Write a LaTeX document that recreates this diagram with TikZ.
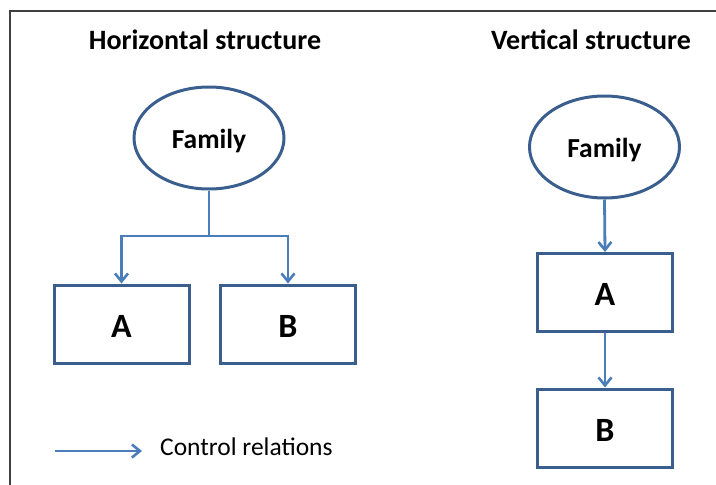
\documentclass[tikz,border=0pt]{standalone}
\usepackage{fontspec}
\setmainfont{Carlito}
\usetikzlibrary{arrows.meta,shapes.geometric}
\definecolor{boxblue}{HTML}{3A5F8F}
\definecolor{linkblue}{HTML}{4A7EBB}
\definecolor{framegray}{HTML}{404040}
\newcommand{\lowered}[2]{\raisebox{-#1}[\height][\depth]{#2}}
\tikzset{
  famnode/.style={draw=boxblue,line width=3pt,ellipse,minimum width=150pt,minimum height=102pt,inner sep=0pt,font=\bfseries\fontsize{27.5}{32}\selectfont},
  unitbox/.style={draw=boxblue,line width=3pt,rectangle,minimum width=135pt,minimum height=78pt,inner sep=0pt,font=\bfseries\fontsize{34}{38}\selectfont},
  titletext/.style={font=\bfseries\fontsize{28}{32}\selectfont,inner sep=0pt},
  link/.style={draw=linkblue,line width=2.8pt,-{Straight Barb[length=8pt,width=13pt,line width=2.6pt]}},
  plainlink/.style={draw=linkblue,line width=2.8pt}
}
\begin{document}
\begin{tikzpicture}[x=1pt,y=-1pt]
\useasboundingbox (0,0) rectangle (716,485);
\draw[framegray,line width=1.5pt] (10,11) rectangle (730,500);
% titles
\node[titletext] (th) at (205,40) {Horizontal structure};
\node[titletext] (tv) at (591,40) {Vertical structure};
% horizontal structure
\node[famnode] (hf) at (209,138) {\lowered{3pt}{Family}};
\node[unitbox] (ha) at (121.5,324) {\lowered{2pt}{A}};
\node[unitbox] (hb) at (288,324) {\lowered{2pt}{B}};
\coordinate (hj) at (209,236);
\draw[plainlink] (hf.south) -- (hj);
\draw[link] (hj) -| (ha.north);
\draw[link] (hj) -| (hb.north);
% vertical structure
\node[famnode] (vf) at (604.5,147) {\lowered{3pt}{Family}};
\node[unitbox] (va) at (605,292.5) {\lowered{2pt}{A}};
\node[unitbox] (vb) at (605,428) {\lowered{2pt}{B}};
\draw[link] (vf.south) -- (va.north);
\draw[link] (va.south) -- (vb.north);
% legend
\coordinate (l1) at (55,451);
\coordinate (l2) at (142,451);
\draw[link] (l1) -- (l2);
\node[anchor=west,inner sep=0pt,font=\fontsize{25.5}{30}\selectfont] (lt) at (160,447) {Control relations};
\end{tikzpicture}
\end{document}
